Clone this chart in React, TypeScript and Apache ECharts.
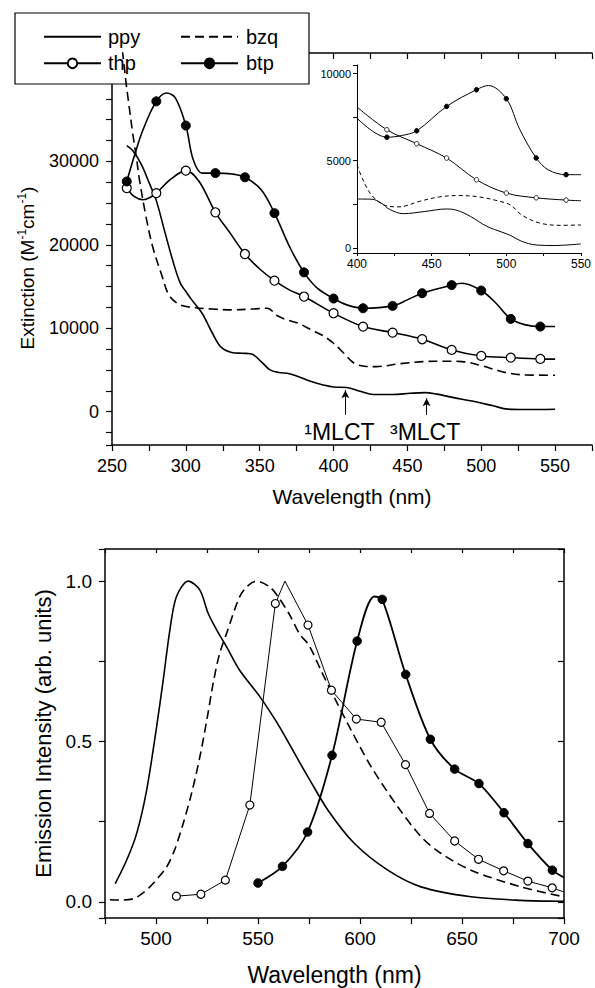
import React, { useEffect, useRef } from 'react';
import * as echarts from 'echarts';

type P = [number, number];

const FONT = '"Liberation Sans", Arial, Helvetica, sans-serif';
const BLACK = '#000';

// ---------- Absorption spectra (main panel) ----------
const absPpy: P[] = [
  [260, 31900], [264, 31300], [270, 29600], [275, 27500], [280, 25300], [286, 21400], [291, 18200],
  [296, 15500], [300, 14400], [304, 13400], [311, 11800], [318, 9400], [324, 7700], [331, 7100],
  [338, 7000], [344, 6950], [351, 6000], [357, 5000], [363, 4700], [370, 4550], [376, 4200],
  [385, 3600], [393, 3200], [400, 2950], [409, 2900], [418, 2450], [427, 2050], [440, 2050],
  [452, 2200], [462, 2280], [470, 2100], [478, 1800], [488, 1450], [497, 1150], [508, 700],
  [518, 300], [530, 250], [550, 290],
];
const absBzq: P[] = [
  [256, 45000], [259.6, 39300], [261, 37400], [264, 33400], [266.5, 30500], [268.6, 27800],
  [273, 23400], [277.5, 19800], [284, 16200], [288.5, 14000], [295, 12900], [304, 12500],
  [318, 12300], [331, 12200], [345, 12300], [355, 12400], [362, 11500], [367, 11100], [376, 10600],
  [385, 9800], [393, 9100], [400, 8200], [407, 7000], [414, 5800], [421, 5450], [429, 5400],
  [445, 5750], [461, 6000], [475, 6050], [487, 6000], [501, 5480], [510, 5000], [519, 4600],
  [530, 4400], [550, 4370],
];
const absThpMarks: P[] = [
  [260, 26800], [280, 26200], [300, 28900], [320, 23900], [340, 18900], [360, 15700], [380, 13800],
  [400, 11800], [420, 10200], [440, 9480], [460, 8680], [480, 7400], [500, 6680], [520, 6480], [540, 6320],
];
const absThpCurve: P[] = [
  [265, 25800], [271, 25400], [276, 25700], [290, 27900], [309, 27600], [330, 21400], [350, 17100],
  [370, 14600], [550, 6300],
];
const absBtpMarks: P[] = [
  [260, 27600], [280, 37200], [300, 34300], [320, 28600], [340, 28100], [360, 23800], [380, 16700],
  [400, 13560], [420, 12400], [440, 12680], [460, 14200], [480, 15170], [500, 14520], [520, 11120], [540, 10200],
];
const absBtpCurve: P[] = [
  [265, 30600], [271, 33800], [287, 38200], [293, 37600], [305, 30200], [311, 28600], [331, 28500],
  [351, 26600], [371, 19500], [389, 14800], [409, 12800], [450, 13400], [487, 15400], [510, 13000],
  [530, 10400], [550, 10200],
];

// annotations (wavelength, extinction)
const arrowNm = [408, 463];
const arrowTip = [2560, 1600];
const arrowBase = -400;
const mlctLabels = ['\u00b9MLCT', '\u00b3MLCT'];
const mlctNm = [404, 462];
const mlctVal = -2440;

// ---------- Inset (400-550 nm) ----------
const insPpy: P[] = [
  [400, 2800], [410, 2790], [416, 2580], [422, 2200], [431, 1960], [445, 2080], [460, 2230],
  [467, 2150], [476, 1800], [487, 1230], [497, 900], [503, 700], [510, 380], [520, 160],
  [532, 130], [550, 220],
];
const insBzq: P[] = [
  [400, 4770], [404, 3900], [410, 3000], [419, 2430], [428, 2350], [442, 2670], [455, 2920],
  [468, 3000], [482, 2920], [495, 2680], [503, 2450], [510, 1900], [522, 1430], [536, 1290], [550, 1310],
];
const insThpMarks: P[] = [[420, 6780], [440, 5980], [460, 5155], [480, 3908], [500, 3142], [520, 2870], [540, 2740]];
const insThpCurve: P[] = [[400, 8090], [550, 2700]];
const insBtpMarks: P[] = [[420, 6350], [440, 6720], [460, 8120], [480, 9080], [500, 8560], [520, 5160], [540, 4200]];
const insBtpCurve: P[] = [[400, 7450], [430, 6450], [488, 9320], [509, 6800], [528, 4480], [550, 4200]];

// ---------- Emission spectra (lower panel) ----------
const emPpy: P[] = [
  [480, 0.057], [485.6, 0.13], [490.5, 0.213], [495.4, 0.348], [500.3, 0.546], [503.5, 0.69],
  [506.8, 0.847], [510, 0.951], [515.8, 1.0], [521.5, 0.972], [525.6, 0.899], [530, 0.845],
  [534.6, 0.795], [541, 0.722], [550.9, 0.64], [559, 0.562], [564.7, 0.5], [570.4, 0.435],
  [574.5, 0.39], [584.3, 0.286], [597.3, 0.182], [613.6, 0.099], [629.9, 0.047], [654.4, 0.016],
  [678.9, 0.005], [700, 0.002],
];
const emBzq: P[] = [
  [477.4, 0.007], [483, 0.006], [488.9, 0.01], [493, 0.025], [497, 0.047], [501, 0.075], [505.2, 0.109],
  [509, 0.16], [513.3, 0.244], [517.5, 0.34], [521.5, 0.452], [525, 0.57], [528, 0.681], [531, 0.77],
  [534.6, 0.837], [541, 0.951], [545, 0.985], [549.2, 1.0], [555.7, 0.982], [560, 0.95], [565.5, 0.895],
  [570.4, 0.835], [575, 0.8], [581, 0.72], [588, 0.63], [595.7, 0.535], [605.5, 0.421], [618.6, 0.296],
  [630, 0.203], [639.8, 0.151], [654.4, 0.099], [678.9, 0.047], [700, 0.016],
];
const emThpMarks: P[] = [
  [510, 0.018], [522, 0.024], [534, 0.068], [546, 0.302], [558.5, 0.93], [574.5, 0.863], [586, 0.66],
  [598.2, 0.57], [610.4, 0.56], [622.3, 0.428], [634.1, 0.276], [646.4, 0.19], [658.1, 0.133],
  [670.4, 0.097], [682.3, 0.065], [694.2, 0.044],
];
const emThpCurve: P[] = [[563.2, 1.0], [700, 0.031]];
const emBtpMarks: P[] = [
  [550, 0.059], [562, 0.111], [574.3, 0.218], [586.3, 0.457], [598.6, 0.813], [610.9, 0.943],
  [622.4, 0.709], [634.5, 0.507], [646.4, 0.414], [658.3, 0.369], [670.6, 0.278], [682.3, 0.182], [694.3, 0.099],
];
const emBtpCurve: P[] = [[607, 0.952], [700, 0.076]];

function mergeMarked(marks: P[], curve: P[]) {
  const out: any[] = [];
  marks.forEach((p) => out.push({ value: p }));
  curve.forEach((p) => out.push({ value: p, symbol: 'none' }));
  out.sort((a, b) => a.value[0] - b.value[0]);
  return out;
}

export default function App() {
  const ref = useRef<HTMLDivElement>(null);

  useEffect(() => {
    if (!ref.current) return;
    const chart = echarts.init(ref.current, undefined, { renderer: 'svg' });

    const axisLine = (w: number) => ({ show: true, onZero: false, lineStyle: { color: BLACK, width: w } });
    const tick = (inside: boolean, len: number, w: number) => ({
      show: true, inside, length: len, lineStyle: { color: BLACK, width: w },
    });
    const noSplit = { show: false };

    const openSym = { color: '#fff', borderColor: BLACK, borderWidth: 1.2 };
    const fillSym = { color: BLACK, borderColor: BLACK, borderWidth: 1 };
    const hiddenSym = { color: 'rgba(0,0,0,0)', borderColor: 'rgba(0,0,0,0)', borderWidth: 0 };

    const base = { type: 'line', silent: true, emphasis: { disabled: true }, clip: true };

    const option: any = {
      animation: false,
      backgroundColor: '#fff',
      textStyle: { fontFamily: FONT, color: BLACK },
      grid: [
        { left: 112, top: 53, width: 485, height: 392 },
        { left: 357, top: 65, width: 224, height: 188 },
        { left: 105, top: 549, width: 459, height: 369 },
      ],
      xAxis: [
        {
          gridIndex: 0, type: 'value', min: 250, max: 575, interval: 25,
          axisLine: axisLine(1.5), axisTick: tick(false, 6, 1.2), splitLine: noSplit,
          axisLabel: { fontSize: 18, color: BLACK, margin: 12, formatter: (v: number) => (v % 50 === 0 && v <= 550 ? String(v) : '') },
          name: 'Wavelength (nm)', nameLocation: 'middle', nameGap: 41,
          nameTextStyle: { fontSize: 21, color: BLACK },
        },
        {
          gridIndex: 0, type: 'value', position: 'top', min: 250, max: 575, interval: 25,
          axisLine: axisLine(1.5), axisTick: tick(true, 6, 1.2), splitLine: noSplit, axisLabel: { show: false },
        },
        {
          gridIndex: 1, type: 'value', min: 400, max: 550, interval: 25,
          axisLine: axisLine(1), axisTick: tick(false, 3, 1), splitLine: noSplit,
          axisLabel: { fontSize: 12, color: BLACK, margin: 5, formatter: (v: number) => (v % 50 === 0 ? String(v) : '') },
        },
        {
          gridIndex: 2, type: 'value', min: 475, max: 700, interval: 25,
          axisLine: axisLine(1.5), axisTick: tick(false, 6, 1.2), splitLine: noSplit,
          axisLabel: { fontSize: 19, color: BLACK, margin: 11, formatter: (v: number) => (v % 50 === 0 ? String(v) : '') },
          name: 'Wavelength (nm)', nameLocation: 'middle', nameGap: 45,
          nameTextStyle: { fontSize: 23, color: BLACK },
        },
        {
          gridIndex: 2, type: 'value', position: 'top', min: 475, max: 700, interval: 25,
          axisLine: axisLine(1.5), axisTick: tick(true, 4, 1.2), splitLine: noSplit, axisLabel: { show: false },
        },
      ],
      yAxis: [
        {
          gridIndex: 0, type: 'value', min: -4000, max: 43000, minInterval: 2500, maxInterval: 2500,
          axisLine: axisLine(1.5), axisTick: tick(false, 6, 1.2), splitLine: noSplit,
          axisLabel: { fontSize: 18, color: BLACK, margin: 13, formatter: (v: number) => (v >= 0 && v % 10000 === 0 ? String(v) : '') },
          name: 'Extinction (M{s|-1}cm{s|-1})', nameLocation: 'middle', nameGap: 72,
          nameTextStyle: {
            fontSize: 19, color: BLACK, lineHeight: 22, padding: [0, 38, 0, 0],
            rich: { s: { fontSize: 12, lineHeight: 12, verticalAlign: 'top', color: BLACK, fontFamily: FONT } },
          },
        },
        {
          gridIndex: 1, type: 'value', min: -300, max: 10500, minInterval: 2500, maxInterval: 2500,
          axisLine: axisLine(1), axisTick: tick(false, 4, 1), splitLine: noSplit,
          axisLabel: { fontSize: 11, color: BLACK, margin: 6, formatter: (v: number) => (v >= 0 && v % 5000 === 0 ? String(v) : '') },
        },
        {
          gridIndex: 2, type: 'value', min: -0.05, max: 1.1, minInterval: 0.25, maxInterval: 0.25,
          axisLine: axisLine(1.5), axisTick: tick(false, 6, 1.2), splitLine: noSplit,
          axisLabel: {
            fontSize: 19, color: BLACK, margin: 13,
            formatter: (v: number) => (v >= -1e-9 && Math.abs(v * 2 - Math.round(v * 2)) < 1e-9 ? v.toFixed(1) : ''),
          },
          name: 'Emission Intensity (arb. units)', nameLocation: 'middle', nameGap: 50,
          nameTextStyle: { fontSize: 22, color: BLACK },
        },
        {
          gridIndex: 2, type: 'value', position: 'right', min: -0.05, max: 1.1, minInterval: 0.25, maxInterval: 0.25,
          axisLine: axisLine(1.5), axisTick: tick(true, 6, 1.2), splitLine: noSplit, axisLabel: { show: false },
        },
      ],
      graphic: [
        {
          type: 'rect', z: 3, silent: true,
          shape: { x: 15, y: 13, width: 294, height: 71 },
          style: { fill: '#fff', stroke: BLACK, lineWidth: 1.2 },
        },
      ],
      legend: [
        {
          data: [{ name: 'ppy', itemStyle: hiddenSym }, { name: 'thp' }],
          orient: 'vertical', left: 43, top: 26.7, padding: 0, itemWidth: 57, itemHeight: 12, itemGap: 6.6,
          selectedMode: false, z: 4,
          textStyle: { fontSize: 20, color: BLACK, lineHeight: 20, padding: [0, 0, 0, 2], fontFamily: FONT },
        },
        {
          data: [{ name: 'bzq', itemStyle: hiddenSym }, { name: 'btp' }],
          orient: 'vertical', left: 180, top: 26.7, padding: 0, itemWidth: 57, itemHeight: 12, itemGap: 6.6,
          selectedMode: false, z: 4,
          textStyle: { fontSize: 20, color: BLACK, lineHeight: 20, padding: [0, 0, 0, 3], fontFamily: FONT },
        },
      ],
      series: [
        // main absorption
        {
          ...base, name: 'ppy', xAxisIndex: 0, yAxisIndex: 0, data: absPpy, smooth: 0.35, symbol: 'none',
          itemStyle: { color: BLACK }, lineStyle: { color: BLACK, width: 1.6 },
          markLine: {
            silent: true, symbol: ['none', 'arrow'], symbolSize: [6, 8],
            lineStyle: { color: BLACK, width: 1, type: 'solid' }, label: { show: false },
            emphasis: { disabled: true },
            data: arrowNm.map((x, i) => [{ coord: [x, arrowBase] }, { coord: [x, arrowTip[i]] }]),
          },
          markPoint: {
            silent: true, symbol: 'circle', symbolSize: 1, itemStyle: { color: 'rgba(0,0,0,0)' },
            label: { show: true, position: 'inside', formatter: '{b}', color: BLACK, fontSize: 23, fontFamily: FONT },
            data: mlctLabels.map((n, i) => ({ name: n, coord: [mlctNm[i], mlctVal] })),
          },
        },
        {
          ...base, name: 'bzq', xAxisIndex: 0, yAxisIndex: 0, data: absBzq, smooth: 0.35, symbol: 'none',
          itemStyle: { color: BLACK }, lineStyle: { color: BLACK, width: 1.6, type: [9, 5] },
        },
        {
          ...base, name: 'thp', xAxisIndex: 0, yAxisIndex: 0, data: mergeMarked(absThpMarks, absThpCurve),
          smooth: 0.35, symbol: 'circle', symbolSize: 9, itemStyle: openSym, lineStyle: { color: BLACK, width: 1.6 },
        },
        {
          ...base, name: 'btp', xAxisIndex: 0, yAxisIndex: 0, data: mergeMarked(absBtpMarks, absBtpCurve),
          smooth: 0.35, symbol: 'circle', symbolSize: 9, itemStyle: fillSym, lineStyle: { color: BLACK, width: 1.6 },
        },
        // inset
        {
          ...base, name: 'ppy', xAxisIndex: 2, yAxisIndex: 1, data: insPpy, smooth: 0.35, symbol: 'none',
          itemStyle: { color: BLACK }, lineStyle: { color: BLACK, width: 1 },
        },
        {
          ...base, name: 'bzq', xAxisIndex: 2, yAxisIndex: 1, data: insBzq, smooth: 0.35, symbol: 'none',
          itemStyle: { color: BLACK }, lineStyle: { color: BLACK, width: 1, type: [4, 3] },
        },
        {
          ...base, name: 'thp', xAxisIndex: 2, yAxisIndex: 1, data: mergeMarked(insThpMarks, insThpCurve),
          smooth: 0.35, symbol: 'circle', symbolSize: 4.5, itemStyle: { color: '#fff', borderColor: BLACK, borderWidth: 0.8 },
          lineStyle: { color: BLACK, width: 1 },
        },
        {
          ...base, name: 'btp', xAxisIndex: 2, yAxisIndex: 1, data: mergeMarked(insBtpMarks, insBtpCurve),
          smooth: 0.35, symbol: 'circle', symbolSize: 4.5, itemStyle: fillSym, lineStyle: { color: BLACK, width: 1 },
        },
        // emission
        {
          ...base, name: 'ppy', xAxisIndex: 3, yAxisIndex: 2, data: emPpy, smooth: 0.3, symbol: 'none',
          itemStyle: { color: BLACK }, lineStyle: { color: BLACK, width: 1.6 },
        },
        {
          ...base, name: 'bzq', xAxisIndex: 3, yAxisIndex: 2, data: emBzq, smooth: 0.3, symbol: 'none',
          itemStyle: { color: BLACK }, lineStyle: { color: BLACK, width: 1.6, type: [9, 5] },
        },
        {
          ...base, name: 'thp', xAxisIndex: 3, yAxisIndex: 2, data: mergeMarked(emThpMarks, emThpCurve),
          smooth: false, symbol: 'circle', symbolSize: 8, itemStyle: openSym, lineStyle: { color: BLACK, width: 1 },
        },
        {
          ...base, name: 'btp', xAxisIndex: 3, yAxisIndex: 2, data: mergeMarked(emBtpMarks, emBtpCurve),
          smooth: 0.3, symbol: 'circle', symbolSize: 8.5, itemStyle: fillSym, lineStyle: { color: BLACK, width: 1.8 },
        },
      ],
    };

    chart.setOption(option);
    return () => chart.dispose();
  }, []);

  return (
    <div
      ref={ref}
      style={{ position: 'absolute', left: 0, top: 0, width: 595, height: 988, background: '#fff' }}
    />
  );
}
